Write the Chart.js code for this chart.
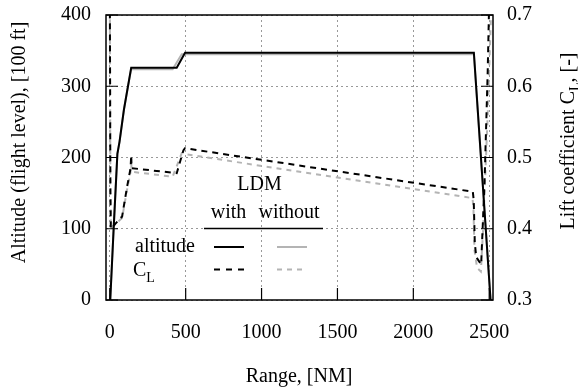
<!DOCTYPE html>
<html>
<head>
<meta charset="utf-8">
<script src="https://cdn.jsdelivr.net/npm/chart.js@4.4.1/dist/chart.umd.min.js"></script>
<style>
  html, body { margin: 0; padding: 0; background: #fff; }
</style>
</head>
<body>
<canvas id="flightChart" width="578" height="392"></canvas>
<script>
// values
const rangeTicks = [0, 500, 1000, 1500, 2000, 2500];
const altTicks = [0, 100, 200, 300, 400];
const clTicks = [0.3, 0.4, 0.5, 0.6, 0.7];

const altWithRange = [0, 3, 26, 50, 64, 93, 119, 141, 441, 496, 2399, 2509];
const altWithLevel = [0, 0, 103, 205, 222, 267, 299, 326, 326, 347, 347, 0];
const altWithoutRange = [0, 3, 26, 50, 64, 93, 119, 141, 414, 474, 2399, 2509];
const altWithoutLevel = [0, 0, 103, 205, 222, 267, 299, 324, 324, 345, 345, 0];

const clWithRange = [0, 2, 4, 7, 70, 81, 114, 137, 141, 143, 145, 441, 485, 495, 2392, 2398, 2405, 2415, 2447, 2470, 2490, 2500];
const clWithValue = [0.75, 0.60, 0.45, 0.40, 0.415, 0.417, 0.459, 0.485, 0.503, 0.49, 0.485, 0.478, 0.51, 0.513, 0.452, 0.44, 0.38, 0.36, 0.35, 0.47, 0.62, 0.72];
const clWithoutRange = [0, 2, 4, 7, 70, 81, 114, 137, 141, 143, 145, 414, 474, 485, 2390, 2396, 2403, 2420, 2445, 2460, 2490, 2515];
const clWithoutValue = [0.75, 0.60, 0.45, 0.40, 0.413, 0.415, 0.455, 0.48, 0.498, 0.485, 0.48, 0.473, 0.506, 0.505, 0.443, 0.43, 0.37, 0.345, 0.34, 0.40, 0.56, 0.72];

const FONT = '"Liberation Serif", "Times New Roman", serif';
const GRAY = '#b4b4b4';

const toPoints = (xs, ys) => xs.map((x, i) => ({ x: x, y: ys[i] }));

// fixed axis sizes, no label overhang padding
const fixAxis = (w, h) => s => {
    if (w) s.width = w;
    if (h) s.height = h;
    s.paddingTop = 0;
    s.paddingBottom = 0;
    s.paddingLeft = 0;
    s.paddingRight = 0;
};

// border, inward ticks, axis titles and the little legend table
const decorations = {
    id: 'decorations',
    afterDatasetsDraw(chart) {
        const ctx = chart.ctx;
        const area = chart.chartArea;
        const sx = chart.scales.x, sy = chart.scales.yAlt, sr = chart.scales.yCl;
        ctx.save();
        ctx.strokeStyle = '#000';
        ctx.lineWidth = 1.5;
        ctx.setLineDash([]);
        ctx.strokeRect(area.left, area.top, area.right - area.left, area.bottom - area.top);

        ctx.lineWidth = 1.2;
        ctx.beginPath();
        rangeTicks.forEach(v => {
            const px = sx.getPixelForValue(v);
            ctx.moveTo(px, area.bottom);
            ctx.lineTo(px, area.bottom - 12);
        });
        altTicks.forEach(v => {
            const py = sy.getPixelForValue(v);
            ctx.moveTo(area.left, py);
            ctx.lineTo(area.left + 12, py);
        });
        clTicks.forEach(v => {
            const py = sr.getPixelForValue(v);
            ctx.moveTo(area.right, py);
            ctx.lineTo(area.right - 12, py);
        });
        ctx.stroke();

        ctx.fillStyle = '#000';
        ctx.font = '20px ' + FONT;
        ctx.textBaseline = 'middle';
        ctx.textAlign = 'center';
        ctx.fillText('Range, [NM]', 299, 377);

        ctx.save();
        ctx.translate(20, 142.5);
        ctx.rotate(-Math.PI / 2);
        ctx.fillText('Altitude (flight level), [100 ft]', 0, 0);
        ctx.restore();

        // right title with subscript
        ctx.save();
        ctx.translate(569, 141);
        ctx.rotate(-Math.PI / 2);
        ctx.textAlign = 'left';
        const a = 'Lift coefficient C', b = 'L', c = ', [-]';
        ctx.font = '20px ' + FONT;
        const wa = ctx.measureText(a).width, wc = ctx.measureText(c).width;
        ctx.font = '14px ' + FONT;
        const wb = ctx.measureText(b).width;
        let x0 = -(wa + wb + wc) / 2;
        ctx.font = '20px ' + FONT;
        ctx.fillText(a, x0, 0);
        ctx.font = '14px ' + FONT;
        ctx.fillText(b, x0 + wa, 6);
        ctx.font = '20px ' + FONT;
        ctx.fillText(c, x0 + wa + wb, 0);
        ctx.restore();

        // legend table
        ctx.textAlign = 'center';
        ctx.fillText('LDM', 259.5, 185);
        ctx.fillText('with', 228.5, 213);
        ctx.fillText('without', 289, 213);
        ctx.lineWidth = 1.5;
        ctx.beginPath();
        ctx.moveTo(204, 228.5);
        ctx.lineTo(323, 228.5);
        ctx.stroke();

        ctx.textAlign = 'left';
        ctx.fillText('altitude', 135, 247);
        ctx.fillText('C', 133, 271);
        const wC = ctx.measureText('C').width;
        ctx.font = '14px ' + FONT;
        ctx.fillText('L', 133 + wC, 278);

        const seg = (x1, x2, y, color, dash) => {
            ctx.strokeStyle = color;
            ctx.lineWidth = 2;
            ctx.setLineDash(dash);
            ctx.beginPath();
            ctx.moveTo(x1, y);
            ctx.lineTo(x2, y);
            ctx.stroke();
        };
        seg(214, 244, 247, '#000', []);
        seg(277, 307, 247, GRAY, []);
        seg(214, 245, 269.5, '#000', [6, 6]);
        seg(277, 307, 269.5, GRAY, [5, 5]);
        ctx.restore();
    }
};

const ctx = document.getElementById('flightChart').getContext('2d');
const flightChart = new Chart(ctx, {
    type: 'line',
    data: {
        datasets: [
            {
                label: 'altitude with',
                data: toPoints(altWithRange, altWithLevel),
                yAxisID: 'yAlt',
                borderColor: '#000',
                borderWidth: 2,
                order: 0
            },
            {
                label: 'CL with',
                data: toPoints(clWithRange, clWithValue),
                yAxisID: 'yCl',
                borderColor: '#000',
                borderWidth: 2,
                borderDash: [6, 5],
                order: 1
            },
            {
                label: 'altitude without',
                data: toPoints(altWithoutRange, altWithoutLevel),
                yAxisID: 'yAlt',
                borderColor: GRAY,
                borderWidth: 2,
                order: 2
            },
            {
                label: 'CL without',
                data: toPoints(clWithoutRange, clWithoutValue),
                yAxisID: 'yCl',
                borderColor: GRAY,
                borderWidth: 2,
                borderDash: [5, 5],
                order: 3
            }
        ]
    },
    options: {
        responsive: false,
        animation: false,
        layout: { padding: { top: 15 } },
        elements: {
            point: { radius: 0 },
            line: { tension: 0, fill: false }
        },
        datasets: { line: { clip: 0 } },
        plugins: {
            legend: { display: false },
            tooltip: { enabled: false }
        },
        scales: {
            x: {
                type: 'linear',
                min: -25,
                max: 2525,
                afterBuildTicks: s => { s.ticks = rangeTicks.map(v => ({ value: v })); },
                afterFit: fixAxis(0, 92),
                grid: { color: '#999', lineWidth: 1, drawTicks: false },
                border: { display: false, dash: [2, 3] },
                ticks: {
                    color: '#000',
                    font: { family: FONT, size: 20 },
                    padding: 21,
                    maxRotation: 0,
                    autoSkip: false,
                    callback: v => String(v)
                }
            },
            yAlt: {
                type: 'linear',
                position: 'left',
                min: 0,
                max: 400,
                afterBuildTicks: s => { s.ticks = altTicks.map(v => ({ value: v })); },
                afterFit: fixAxis(106, 0),
                grid: { color: '#999', lineWidth: 1, drawTicks: false },
                border: { display: false, dash: [2, 3] },
                ticks: {
                    color: '#000',
                    font: { family: FONT, size: 20 },
                    padding: 15,
                    callback: v => String(v)
                }
            },
            yCl: {
                type: 'linear',
                position: 'right',
                min: 0.3,
                max: 0.7,
                afterBuildTicks: s => { s.ticks = clTicks.map(v => ({ value: v })); },
                afterFit: fixAxis(85, 0),
                grid: { display: false, drawTicks: false },
                border: { display: false },
                ticks: {
                    color: '#000',
                    font: { family: FONT, size: 20 },
                    padding: 14,
                    callback: v => v.toFixed(1)
                }
            }
        }
    },
    plugins: [decorations]
});
</script>
</body>
</html>
